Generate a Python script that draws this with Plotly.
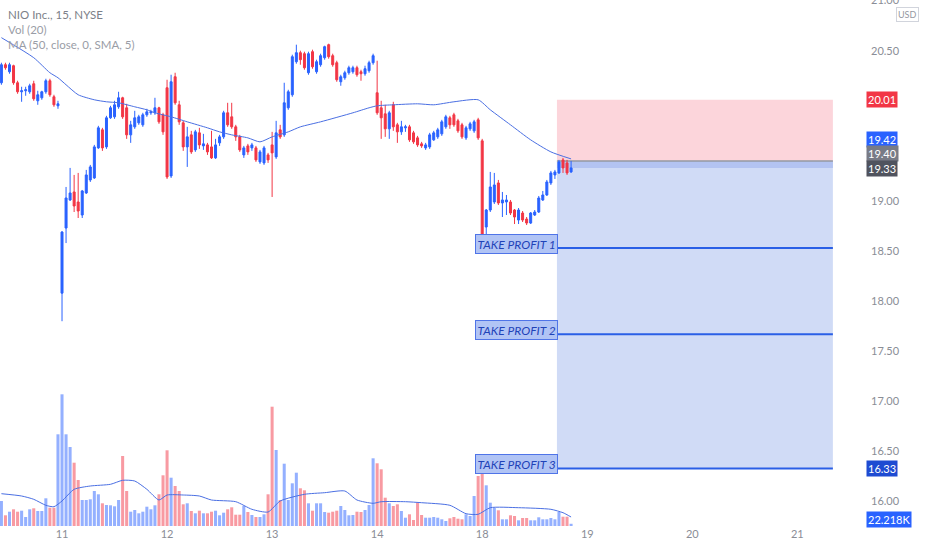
import plotly.graph_objects as go

# ---------------- data (15-min bars, index 0 = first bar of day 11) ----------------
bars = list(range(-15, 127))

opens = [
    20.18, 20.36, 20.29, 20.35, 20.18, 20.09, 20.10, 20.09, 20.17, 20.00, 20.03, 20.09, 20.20, 20.04, 19.95,
    18.08, 18.73, 19.01, 19.09, 18.99, 18.86, 19.08, 19.21, 19.23, 19.53, 19.71, 19.54, 19.83, 19.84, 19.94, 20.03, 19.93, 19.66, 19.74, 19.78, 19.76, 19.86, 19.88, 19.88, 19.93, 19.86,
    20.13, 19.25, 20.24, 19.96, 19.78, 19.54, 19.66, 19.51, 19.68, 19.55, 19.56, 19.54, 19.43, 19.58, 19.64, 19.88, 19.84, 19.74, 19.64, 19.46, 19.55, 19.53, 19.53, 19.39, 19.38, 19.46,
    19.56, 19.44, 19.71, 19.66, 19.93, 20.06, 20.39, 20.48, 20.47, 20.28, 20.49, 20.29, 20.36, 20.43, 20.56, 20.45, 20.38, 20.19, 20.23, 20.28, 20.29, 20.33, 20.29, 20.27, 20.30, 20.38,
    20.08, 19.93, 19.87, 19.72, 19.96, 19.76, 19.69, 19.73, 19.74, 19.68, 19.63, 19.57, 19.53, 19.54, 19.61, 19.64, 19.67, 19.74, 19.83, 19.86, 19.80, 19.76, 19.63, 19.72, 19.70, 19.81,
    19.60, 18.74, 18.91, 18.99, 19.18, 18.98, 18.99, 18.99, 18.91, 18.81, 18.88, 18.82, 18.78, 18.86, 18.89, 19.01, 19.06, 19.18, 19.26, 19.28, 19.41, 19.38, 19.29,
]
highs = [
    20.38, 20.38, 20.38, 20.36, 20.20, 20.14, 20.14, 20.17, 20.20, 20.10, 20.10, 20.22, 20.22, 20.06, 20.00,
    18.70, 19.14, 19.33, 19.26, 19.28, 19.11, 19.31, 19.36, 19.56, 19.75, 19.73, 19.85, 19.95, 20.00, 20.09, 20.04, 19.97, 19.80, 19.90, 19.86, 19.88, 19.92, 19.91, 20.03, 19.94, 19.88,
    20.21, 20.26, 20.28, 20.00, 19.80, 19.74, 19.70, 19.71, 19.73, 19.67, 19.58, 19.70, 19.62, 19.66, 19.90, 19.98, 19.98, 19.76, 19.66, 19.55, 19.57, 19.58, 19.55, 19.51, 19.55, 19.48,
    19.69, 19.80, 19.76, 20.18, 20.11, 20.46, 20.56, 20.50, 20.49, 20.49, 20.51, 20.41, 20.47, 20.55, 20.57, 20.47, 20.40, 20.26, 20.30, 20.35, 20.35, 20.35, 20.31, 20.35, 20.40, 20.47,
    20.40, 20.00, 19.96, 19.90, 19.99, 19.78, 19.80, 19.76, 19.76, 19.70, 19.65, 19.59, 19.58, 19.68, 19.70, 19.73, 19.81, 19.86, 19.85, 19.88, 19.82, 19.78, 19.75, 19.79, 19.81, 19.83,
    19.62, 18.92, 19.29, 19.28, 19.21, 19.09, 19.06, 19.01, 18.92, 18.93, 18.90, 18.84, 18.89, 18.91, 19.05, 19.10, 19.21, 19.30, 19.31, 19.41, 19.43, 19.41, 19.40,
]
lows = [
    20.16, 20.31, 20.27, 20.16, 20.07, 19.99, 20.05, 20.07, 20.00, 19.96, 20.01, 20.07, 20.04, 19.94, 19.92,
    17.80, 18.58, 19.00, 18.89, 18.83, 18.83, 19.07, 19.19, 19.22, 19.52, 19.50, 19.52, 19.82, 19.82, 19.92, 19.82, 19.62, 19.58, 19.72, 19.76, 19.74, 19.84, 19.86, 19.86, 19.77, 19.66,
    19.22, 19.23, 19.96, 19.76, 19.50, 19.34, 19.47, 19.49, 19.52, 19.51, 19.46, 19.42, 19.42, 19.55, 19.62, 19.74, 19.72, 19.60, 19.49, 19.43, 19.46, 19.50, 19.39, 19.37, 19.36, 19.38,
    19.04, 19.42, 19.62, 19.64, 19.91, 20.04, 20.37, 20.36, 20.31, 20.26, 20.32, 20.27, 20.34, 20.41, 20.42, 20.34, 20.19, 20.15, 20.21, 20.26, 20.27, 20.24, 20.20, 20.25, 20.28, 20.36,
    19.86, 19.62, 19.64, 19.62, 19.70, 19.58, 19.66, 19.69, 19.59, 19.57, 19.54, 19.53, 19.51, 19.52, 19.60, 19.62, 19.65, 19.72, 19.72, 19.74, 19.68, 19.62, 19.61, 19.70, 19.68, 19.61,
    18.57, 18.58, 18.89, 18.97, 18.96, 18.84, 18.86, 18.86, 18.77, 18.77, 18.79, 18.76, 18.77, 18.85, 18.88, 19.00, 19.05, 19.16, 19.22, 19.27, 19.28, 19.26, 19.28,
]
closes = [
    20.36, 20.33, 20.36, 20.18, 20.09, 20.10, 20.11, 20.15, 20.02, 20.06, 20.09, 20.20, 20.06, 19.96, 19.97,
    18.69, 19.03, 19.08, 18.95, 18.90, 19.10, 19.26, 19.34, 19.54, 19.73, 19.53, 19.83, 19.93, 19.96, 20.03, 19.84, 19.66, 19.76, 19.83, 19.84, 19.86, 19.89, 19.89, 19.93, 19.79, 19.69,
    19.24, 20.19, 19.98, 19.79, 19.54, 19.64, 19.49, 19.69, 19.56, 19.57, 19.49, 19.43, 19.56, 19.64, 19.88, 19.76, 19.74, 19.64, 19.51, 19.53, 19.49, 19.56, 19.41, 19.49, 19.53, 19.41,
    19.48, 19.68, 19.64, 19.98, 20.09, 20.44, 20.48, 20.41, 20.33, 20.47, 20.34, 20.39, 20.45, 20.54, 20.44, 20.36, 20.21, 20.24, 20.28, 20.33, 20.33, 20.26, 20.27, 20.32, 20.38, 20.45,
    19.88, 19.83, 19.72, 19.88, 19.74, 19.69, 19.74, 19.74, 19.61, 19.59, 19.56, 19.55, 19.56, 19.66, 19.68, 19.71, 19.79, 19.84, 19.76, 19.76, 19.70, 19.64, 19.73, 19.77, 19.79, 19.63,
    18.63, 18.91, 19.14, 19.16, 18.98, 19.01, 19.01, 18.88, 18.84, 18.91, 18.81, 18.78, 18.88, 18.89, 19.03, 19.06, 19.19, 19.28, 19.29, 19.39, 19.33, 19.28, 19.33,
]
volumes_k = [
    250, 107, 143, 167, 143, 153, 90, 167, 177, 150, 150, 277, 183, 183, 917,
    1317, 917, 790, 633, 460, 260, 260, 267, 350, 317, 227, 210, 207, 197, 260, 700, 350, 143, 160, 127, 143, 193, 167, 207, 317, 507,
    757, 483, 400, 350, 217, 227, 150, 127, 153, 127, 127, 143, 153, 107, 133, 167, 187, 113, 113, 200, 140, 110, 90, 90, 117, 317,
    1193, 760, 260, 623, 260, 427, 533, 377, 357, 227, 153, 227, 227, 140, 133, 143, 153, 200, 160, 107, 110, 143, 140, 160, 210, 677,
    627, 567, 283, 227, 200, 217, 150, 83, 117, 60, 233, 110, 83, 83, 90, 83, 67, 50, 77, 90, 73, 67, 117, 100, 300, 500,
    617, 407, 233, 183, 157, 67, 67, 107, 100, 57, 80, 80, 57, 57, 87, 67, 67, 80, 67, 140, 93, 93, 22.218,
]

# MA(50) of close
ma_bars = [-15, -7, -3, -1, 1, 4, 8, 11, 14, 18, 21, 23, 27, 31, 36, 39, 42, 46, 49, 52, 56, 59, 64, 72, 76, 78, 82, 88, 92, 97, 103, 106, 111, 116, 121, 126]
ma_vals = [20.63, 20.43, 20.28, 20.23, 20.16, 20.06, 20.01, 19.99, 19.98, 19.94, 19.91, 19.88, 19.84, 19.79, 19.73, 19.69, 19.66, 19.63, 19.59, 19.64, 19.69, 19.74, 19.79, 19.88, 19.93, 19.95, 19.96, 19.97, 19.96, 19.99, 20.01, 19.91, 19.76, 19.61, 19.49, 19.42]

# Volume MA(20) (thousands)
vma_bars = [-15, -10, -7, -4, -2, 0, 3, 7, 12, 15, 18, 21, 24, 26, 30, 34, 37, 43, 47, 51, 54, 60, 65, 70, 73, 77, 79, 85, 89, 96, 100, 103, 106, 113, 121, 124, 126]
vma_vals = [323, 300, 267, 207, 193, 250, 367, 400, 417, 457, 450, 367, 260, 310, 310, 300, 260, 243, 167, 140, 250, 317, 333, 350, 260, 227, 243, 243, 233, 207, 123, 117, 183, 183, 167, 133, 90]

day_tick_bars = [0, 26, 52, 78, 104, 130, 156, 182]
day_tick_labels = ["11", "12", "13", "14", "18", "19", "20", "21"]
# 19.50 and 20.00 sit behind the price labels in the reference
price_ticks = [16.0, 16.5, 17.0, 17.5, 18.0, 18.5, 19.0, 20.5, 21.0]

# Long position tool
pos_start_bar = 122.5
pos_end_bar = 190.8
stop_price = 20.01
entry_price = 19.40
last_price = 19.33
ma_last = 19.42
take_profits = [18.53, 17.67, 16.33]
tp_names = ["TAKE PROFIT 1", "TAKE PROFIT 2", "TAKE PROFIT 3"]
last_volume_label = "22.218K"

# ---------------- figure ----------------
UP = "#2962ff"
DN = "#f23645"
FONT = "Lato"
AXIS_TXT = "#8a8d96"

fig = go.Figure()

vol_colors = ["rgba(41,98,255,0.5)" if c >= o else "rgba(242,54,69,0.5)" for o, c in zip(opens, closes)]
fig.add_trace(go.Bar(x=bars, y=volumes_k, marker=dict(color=vol_colors, line=dict(width=0)),
                     yaxis="y2", showlegend=False, hoverinfo="skip"))
fig.add_trace(go.Scatter(x=vma_bars, y=vma_vals, mode="lines", line=dict(color="#4a6fe3", width=1, shape="spline", smoothing=0.6),
                         yaxis="y2", showlegend=False, hoverinfo="skip"))

fig.add_trace(go.Candlestick(
    x=bars, open=opens, high=highs, low=lows, close=closes,
    increasing=dict(line=dict(color=UP, width=1), fillcolor=UP),
    decreasing=dict(line=dict(color=DN, width=1), fillcolor=DN),
    whiskerwidth=0, showlegend=False, hoverinfo="skip"))
fig.add_trace(go.Scatter(x=ma_bars, y=ma_vals, mode="lines", line=dict(color="#4a6fe3", width=1, shape="spline", smoothing=0.6),
                         showlegend=False, hoverinfo="skip"))

shapes = []
# stop zone
shapes.append(dict(type="rect", xref="x", yref="y", x0=pos_start_bar, x1=pos_end_bar, y0=entry_price, y1=stop_price,
                   fillcolor="#fcd5db", line=dict(width=0), layer="below"))
# target zone
shapes.append(dict(type="rect", xref="x", yref="y", x0=pos_start_bar, x1=pos_end_bar, y0=take_profits[-1], y1=entry_price,
                   fillcolor="#d0dbf6", line=dict(width=0), layer="below"))
# open P/L band
shapes.append(dict(type="rect", xref="x", yref="y", x0=pos_start_bar, x1=pos_end_bar, y0=last_price, y1=entry_price,
                   fillcolor="#b3c3f1", line=dict(width=0), layer="below"))
# entry line
shapes.append(dict(type="line", xref="x", yref="y", x0=pos_start_bar, x1=pos_end_bar, y0=entry_price, y1=entry_price,
                   line=dict(color="#9598a1", width=1.5), layer="below"))
for tp in take_profits:
    shapes.append(dict(type="line", xref="x", yref="y", x0=pos_start_bar, x1=pos_end_bar, y0=tp, y1=tp,
                       line=dict(color="#2a5fe6", width=2)))

annotations = []
for tp, name in zip(take_profits, tp_names):
    annotations.append(dict(x=pos_start_bar, y=tp, xref="x", yref="y", xanchor="right", yanchor="middle",
                            xshift=1, yshift=4, text="<i>" + name + "</i>", showarrow=False,
                            font=dict(family=FONT, size=12, color="#1f43b8"),
                            bgcolor="#b1c4f5", bordercolor="#4f74e8", borderwidth=1, borderpad=1.5))

def price_label(val, color, yshift=0, yref="y", text=None):
    return dict(x=1, xref="paper", y=val, yref=yref, xanchor="left", yanchor="middle", xshift=2, yshift=yshift,
                text=text if text is not None else f"{val:.2f}", showarrow=False,
                font=dict(family=FONT, size=11, color="white"), bgcolor=color, borderpad=1)

annotations.append(price_label(stop_price, "#f23645"))
annotations.append(price_label(ma_last, "#2962ff", yshift=19))
annotations.append(price_label(entry_price, "#787b86", yshift=7))
annotations.append(price_label(last_price, "#50535e", yshift=-1))
annotations.append(price_label(take_profits[-1], "#1e4bd2"))
annotations.append(price_label(volumes_k[-1], "#2962ff", yshift=4, yref="y2", text=last_volume_label))

annotations.append(dict(x=1, xref="paper", y=1, yref="paper", xanchor="center", yanchor="top", xshift=43, yshift=-7,
                        text="USD", showarrow=False, font=dict(family=FONT, size=9, color="#9598a1"),
                        bordercolor="#d1d4dc", borderwidth=1, borderpad=1, bgcolor="white"))

legend_lines = [("NIO Inc., 15, NYSE", "#7c7f88", 14), ("Vol (20)", "#9a9da6", 29), ("MA (50, close, 0, SMA, 5)", "#9a9da6", 44)]
for txt, col, ypx in legend_lines:
    annotations.append(dict(x=0, xref="paper", y=1, yref="paper", xanchor="left", yanchor="middle",
                            xshift=6, yshift=-ypx, text=txt, showarrow=False,
                            font=dict(family=FONT, size=11.5, color=col)))

fig.update_layout(
    width=932, height=550,
    margin=dict(l=0, r=68, t=0, b=24, autoexpand=False),
    paper_bgcolor="white", plot_bgcolor="white",
    bargap=0.25,
    showlegend=False,
    shapes=shapes, annotations=annotations,
    xaxis=dict(range=[-15.35, 198.5], tickvals=day_tick_bars, ticktext=day_tick_labels,
               showgrid=False, zeroline=False, showline=False, ticks="", automargin=False,
               tickfont=dict(family=FONT, size=11, color=AXIS_TXT),
               rangeslider=dict(visible=False), fixedrange=True),
    yaxis=dict(range=[15.756, 21.006], side="right", tickvals=price_ticks, tickformat=".2f",
               showgrid=False, zeroline=False, showline=False, ticks="", ticklabelstandoff=6,
               ticklabeloverflow="allow", automargin=False,
               tickfont=dict(family=FONT, size=11, color=AXIS_TXT)),
    yaxis2=dict(range=[0, 5260], overlaying="y", visible=False),
)

fig.write_html("out.html", config={"displayModeBar": False},
               post_script="document.body.style.margin='0px';document.body.style.overflow='hidden';")
